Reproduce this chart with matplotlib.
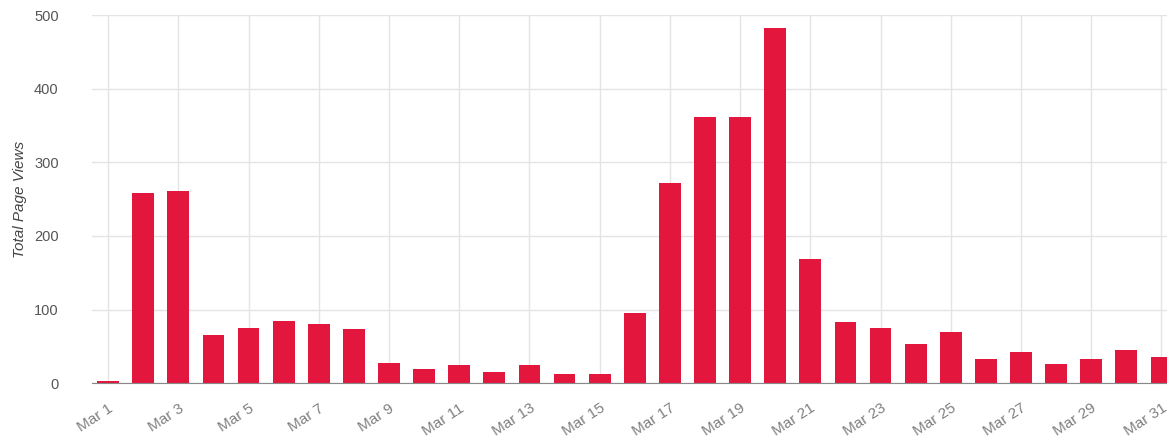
# total page views per day, March
import matplotlib.pyplot as plt

plt.rcParams['font.family'] = ['Liberation Sans', 'DejaVu Sans']

days = list(range(1, 32))
views = [3, 258, 261, 65, 75, 84, 80, 73, 28, 19, 24, 15, 24, 12, 12,
         95, 272, 362, 362, 483, 169, 83, 75, 53, 69, 33, 42, 26, 33, 45, 35]
tick_days = list(range(1, 32, 2))
tick_labels = ['Mar %d' % d for d in tick_days]

fig = plt.figure(figsize=(11.67, 4.45), dpi=100)
ax = fig.add_axes([0.0788, 0.139, 0.93, 0.827])

ax.bar(days, views, width=0.62, color='#e3173e', zorder=3)

ax.set_xlim(0.54, 31.45)
ax.set_ylim(0, 500)
ax.set_yticks([0, 100, 200, 300, 400, 500])
ax.set_xticks(tick_days)
ax.set_xticklabels(tick_labels, rotation=33, ha='right', rotation_mode='anchor')

ax.grid(True, color='#e4e4e4', linewidth=1, zorder=0)
for s in ['top', 'right', 'left']:
    ax.spines[s].set_visible(False)
ax.spines['bottom'].set_color('#888888')
ax.spines['bottom'].set_zorder(4)

ax.tick_params(axis='x', length=0, pad=13, labelsize=11, labelcolor='#808080')
ax.tick_params(axis='y', length=0, pad=24, labelsize=10.5, labelcolor='#555555')
ax.set_ylabel('Total Page Views', style='italic', fontsize=11, color='#444444', labelpad=5)

fig.savefig('out.png', dpi=100)
